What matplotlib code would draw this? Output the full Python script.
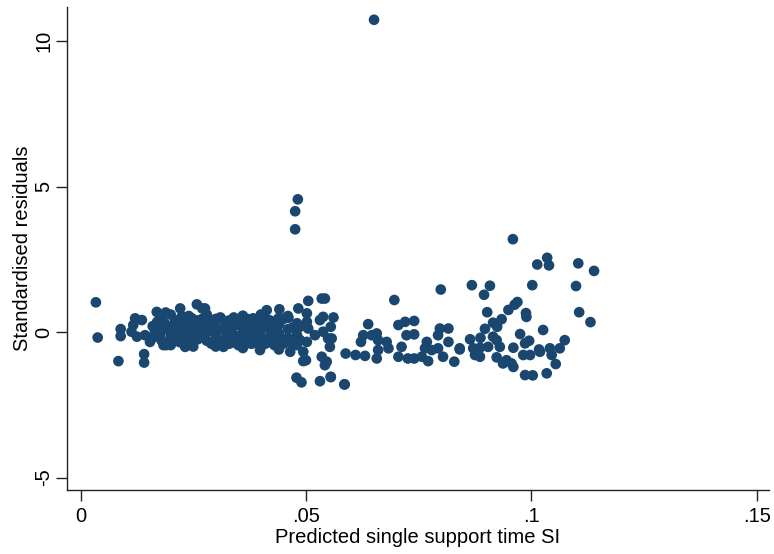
import matplotlib
matplotlib.use("Agg")
import matplotlib.pyplot as plt
import numpy as np

# predicted single support time (SI) and standardised residuals
pred = [
    # outliers
    0.0651, 0.0482, 0.0476, 0.0476, 0.0959,
    # right-hand group
    0.1035, 0.1013, 0.1039, 0.1104, 0.1139, 0.0868, 0.0908, 0.0895, 0.1002, 0.1099,
    0.0969, 0.0963, 0.0949, 0.0902, 0.0988, 0.0989, 0.1106, 0.1131, 0.0934, 0.0915,
    0.0924, 0.0897, 0.1026, 0.0975, 0.1074, 0.0864, 0.0887, 0.0915, 0.0923, 0.0995,
    0.0841, 0.0871, 0.0886, 0.0904, 0.0930, 0.0960, 0.0986, 0.1017, 0.1041, 0.1063,
    0.0875, 0.0886, 0.0923, 0.0945, 0.0956, 0.0960, 0.0982, 0.0997, 0.1019, 0.1045,
    0.1054, 0.0986, 0.1003, 0.1034, 0.0937,
    # middle group
    0.0799, 0.0696, 0.0542, 0.0561, 0.0555, 0.0557, 0.0553, 0.0546, 0.0555, 0.0586,
    0.0588, 0.0610, 0.0631, 0.0638, 0.0627, 0.0622, 0.0646, 0.0657, 0.0660, 0.0679,
    0.0683, 0.0660, 0.0657, 0.0705, 0.0720, 0.0740, 0.0723, 0.0740, 0.0712, 0.0705,
    0.0726, 0.0740, 0.0757, 0.0768, 0.0764, 0.0779, 0.0771, 0.0793, 0.0797, 0.0816,
    0.0793, 0.0804, 0.0816, 0.0829, 0.0841,
    # upper edge of the main band
    0.0505, 0.0535, 0.0483, 0.0502, 0.0441, 0.0413, 0.0276, 0.0311, 0.0335, 0.0360,
    0.0383, 0.0405, 0.0439, 0.0461, 0.0502, 0.0531, 0.0538, 0.0487, 0.0505, 0.0520,
    0.0538, 0.0549, 0.0487, 0.0502, 0.0465, 0.0465, 0.0442, 0.0420, 0.0398, 0.0376,
    0.0354, 0.0317, 0.0294, 0.0494, 0.0500, 0.0494, 0.0479, 0.0490, 0.0531, 0.0555,
    0.0585, 0.0535, 0.0542,
    # left end of the band
    0.0034, 0.0038, 0.0084, 0.0141, 0.0141, 0.0089, 0.0089, 0.0113, 0.0121, 0.0136,
    0.0117, 0.0125, 0.0143, 0.0154, 0.0169, 0.0189, 0.0187, 0.0165, 0.0176, 0.0184,
    0.0202, 0.0221, 0.0258, 0.0270, 0.0210, 0.0232, 0.0217, 0.0239, 0.0210, 0.0232,
    0.0254, 0.0247, 0.0224, 0.0265, 0.0199, 0.0232,
    # dense core
    0.016, 0.016, 0.018, 0.018, 0.018, 0.020, 0.020, 0.020, 0.020, 0.022,
    0.022, 0.022, 0.024, 0.024, 0.024, 0.024, 0.026, 0.026, 0.026, 0.028,
    0.028, 0.028, 0.028, 0.030, 0.030, 0.030, 0.030, 0.032, 0.032, 0.032,
    0.034, 0.034, 0.034, 0.034, 0.036, 0.036, 0.036, 0.036, 0.038, 0.038,
    0.038, 0.040, 0.040, 0.040, 0.040, 0.040, 0.042, 0.042, 0.042, 0.044,
    0.044, 0.044, 0.044, 0.046, 0.046, 0.046, 0.048, 0.048, 0.048,
    0.017, 0.017, 0.019, 0.019, 0.021, 0.021, 0.021, 0.023, 0.023, 0.023,
    0.025, 0.025, 0.025, 0.027, 0.027, 0.027, 0.029, 0.029, 0.029, 0.031,
    0.031, 0.031, 0.033, 0.033, 0.033, 0.035, 0.035, 0.035, 0.037, 0.037,
    0.037, 0.039, 0.039, 0.039, 0.041, 0.041, 0.041, 0.043, 0.043, 0.043,
    0.045, 0.045, 0.047, 0.047,
]
resid = [
    10.73, 4.56, 4.15, 3.53, 3.19,
    2.55, 2.32, 2.29, 2.36, 2.10, 1.61, 1.59, 1.28, 1.61, 1.58,
    1.03, 0.94, 0.76, 0.68, 0.65, 0.52, 0.68, 0.34, 0.44, 0.32,
    0.18, 0.11, 0.07, -0.07, -0.28, -0.25, -0.20, -0.16, -0.28, -0.30,
    -0.56, -0.56, -0.54, -0.51, -0.51, -0.54, -0.39, -0.60, -0.56, -0.56,
    -0.79, -0.85, -0.87, -0.97, -1.08, -1.20, -0.79, -0.79, -0.68, -0.79,
    -1.10, -1.48, -1.49, -1.42, -1.08,
    1.46, 1.10, 1.15, 0.50, 0.18, -0.22, -0.51, -1.02, -1.54, -1.80,
    -0.74, -0.79, -0.82, 0.27, -0.11, -0.34, -0.11, -0.05, -0.28, -0.34,
    -0.56, -0.62, -0.91, 0.24, 0.35, 0.38, -0.11, -0.08, -0.51, -0.85,
    -0.91, -0.91, -0.85, -0.34, -0.56, -0.62, -1.00, -0.11, 0.12, 0.12,
    -0.56, -0.85, -0.34, -1.02, -0.60,
    1.07, 1.15, 0.81, 0.64, 0.78, 0.75, 0.81, 0.47, 0.41, 0.56,
    0.47, 0.52, 0.47, 0.49, 0.35, 0.41, 0.52, 0.18, 0.12, -0.11,
    0.01, -0.22, -0.28, -0.34, -0.34, -0.68, -0.45, -0.34, -0.62, -0.39,
    -0.45, -0.51, -0.39, -0.68, -0.97, -1.00, -1.57, -1.73, -1.69, -1.55,
    -1.80, -0.85, -1.14,
    1.02, -0.19, -1.00, -0.76, -1.05, 0.10, -0.14, 0.01, 0.47, 0.41,
    0.24, -0.16, -0.11, -0.34, 0.69, 0.67, 0.30, 0.01, -0.11, -0.45,
    -0.34, 0.81, 0.95, 0.81, 0.35, 0.35, 0.01, 0.12, -0.22, -0.51,
    -0.22, 0.47, 0.52, 0.01, 0.01, -0.16,
    0.20, -0.20, 0.45, 0.05, -0.30, 0.60, 0.15, -0.15, -0.45, 0.25,
    -0.05, -0.35, 0.55, 0.20, -0.10, -0.40, 0.40, 0.10, -0.25, 0.60,
    0.30, 0.00, -0.30, 0.45, 0.15, -0.15, -0.50, 0.30, 0.05, -0.25,
    0.50, 0.20, -0.10, -0.35, 0.35, 0.00, -0.30, -0.55, 0.25, -0.05,
    -0.40, 0.60, 0.30, 0.05, -0.20, -0.50, 0.40, 0.10, -0.15, 0.25,
    -0.05, -0.30, -0.60, 0.55, 0.10, -0.20, 0.30, -0.10, -0.45,
    0.35, -0.05, 0.20, -0.45, 0.40, 0.00, -0.30, 0.50, 0.10, -0.20,
    0.30, -0.05, -0.50, 0.45, 0.15, -0.15, 0.30, 0.05, -0.40, 0.50,
    0.10, -0.30, 0.40, 0.00, -0.40, 0.25, -0.15, -0.45, 0.45, 0.10,
    -0.20, 0.40, 0.15, -0.30, 0.45, 0.20, -0.40, 0.35, 0.00, -0.45,
    0.45, -0.40, 0.15, -0.30,
]

xticks = [0, 0.05, 0.1, 0.15]
xticklabels = ["0", ".05", ".1", ".15"]
yticks = [-5, 0, 5, 10]

navy = "#1a476f"

plt.rcParams["font.family"] = ["Liberation Sans", "DejaVu Sans"]

fig = plt.figure(figsize=(7.74, 5.54), dpi=100)
ax = fig.add_axes([0.0866, 0.1155, 0.9069, 0.8719])

ax.scatter(pred, resid, s=59, color=navy, edgecolors="none", zorder=3)

ax.set_xlim(-0.003, 0.1527)
ax.set_ylim(-5.43, 11.17)

ax.set_xticks(xticks)
ax.set_xticklabels(xticklabels)
ax.set_yticks(yticks)
ax.set_yticklabels([str(v) for v in yticks], rotation=90, va="center")

ax.tick_params(axis="both", direction="out", length=8, width=1, color="#222222",
               labelsize=14.5, pad=4)
ax.tick_params(axis="y", pad=2)

for side in ["top", "right"]:
    ax.spines[side].set_visible(False)
for side in ["left", "bottom"]:
    ax.spines[side].set_linewidth(1)
    ax.spines[side].set_color("#222222")

ax.set_xlabel("Predicted single support time SI", fontsize=14.5, labelpad=2)
ax.set_ylabel("Standardised residuals", fontsize=14.5)
ax.yaxis.set_label_coords(-0.05, 0.5)

fig.savefig("out.png", dpi=100)
